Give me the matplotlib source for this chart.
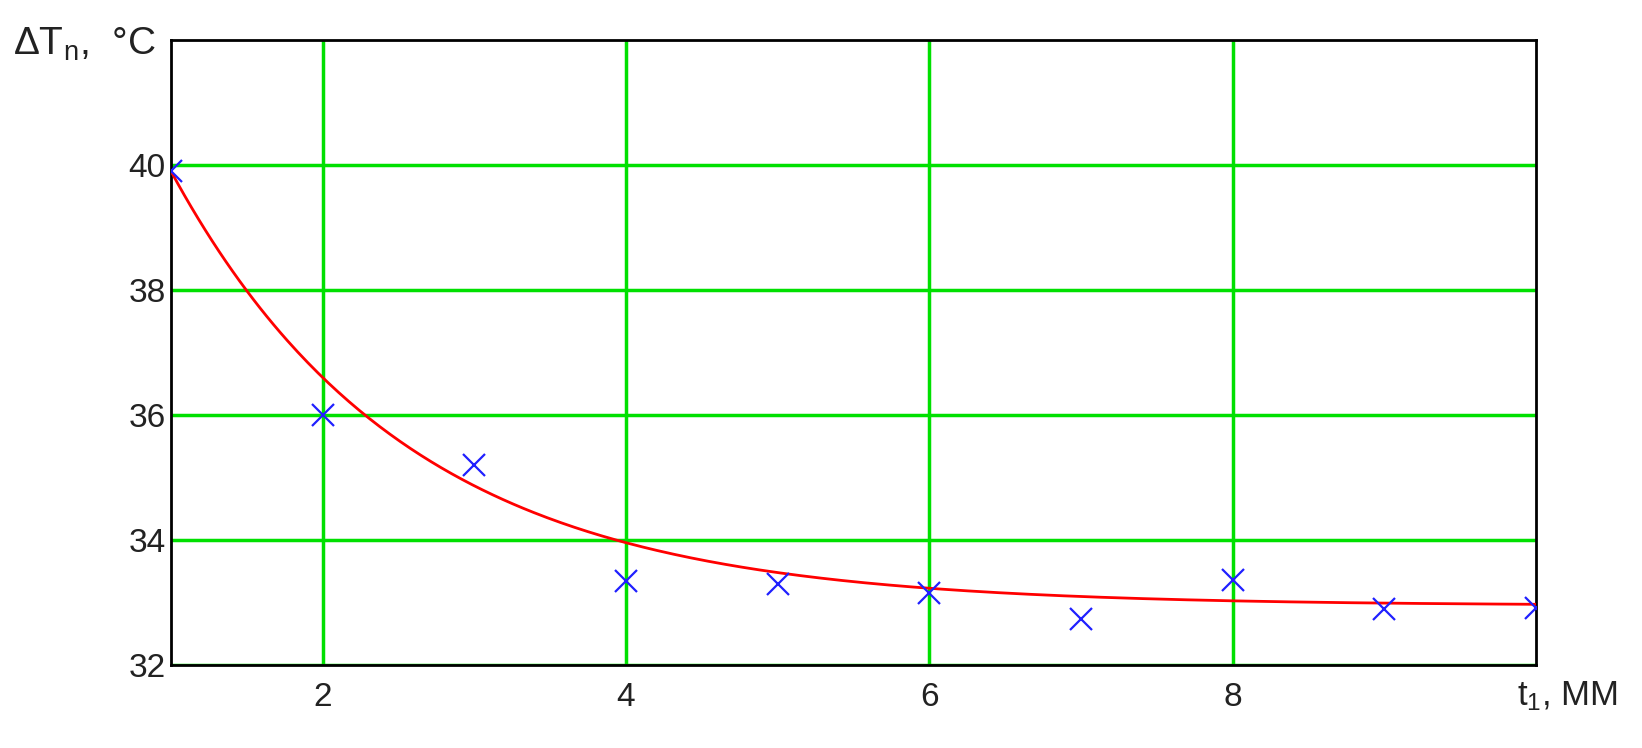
import numpy as np
import matplotlib.pyplot as plt

plt.rcParams['font.family'] = ['Liberation Sans', 'DejaVu Sans']
plt.rcParams['mathtext.default'] = 'regular'

# measured points
t1 = [1, 2, 3, 4, 5, 6, 7, 8, 9, 10]
dT = [39.9, 36.0, 35.2, 33.34, 33.29, 33.16, 32.74, 33.36, 32.9, 32.92]

# exponential fit dT = a + b*exp(-c*(t-1)), parameters
fit_a = 32.95
fit_b = 6.95
fit_c = 0.644

xticks = [2, 4, 6, 8]
yticks = [32, 34, 36, 38, 40]

fig = plt.figure(figsize=(16.42, 7.48), dpi=100)
ax = fig.add_axes([171 / 1642, 1 - 665 / 748, (1536 - 171) / 1642, (665 - 40) / 748])

tt = np.linspace(1, 10, 400)
ax.plot(tt, fit_a + fit_b * np.exp(-fit_c * (tt - 1)), color='red', lw=2, zorder=3)
ax.plot(t1, dT, ls='none', marker='x', ms=16, mew=1.6, color='#2020ff', zorder=4)

ax.set_xlim(1, 10)
ax.set_ylim(32, 42)
ax.set_xticks(xticks)
ax.set_yticks(yticks)
ax.grid(True, color='#00e000', lw=2.5)
ax.set_axisbelow(True)
ax.tick_params(length=0, labelsize=24, colors='#222222')
ax.tick_params(axis='y', pad=4)
ax.tick_params(axis='x', pad=12)
for s in ax.spines.values():
    s.set_linewidth(2)
    s.set_color('black')

fig.text(13 / 1642, 1 - 44 / 748, 'ΔT$_n$,  °C', fontsize=28, va='center', ha='left', color='#222222')
fig.text(1618 / 1642, 1 - 696 / 748, 't$_1$, ММ', fontsize=25, va='center', ha='right', color='#222222')

plt.savefig('out.png', dpi=100)
